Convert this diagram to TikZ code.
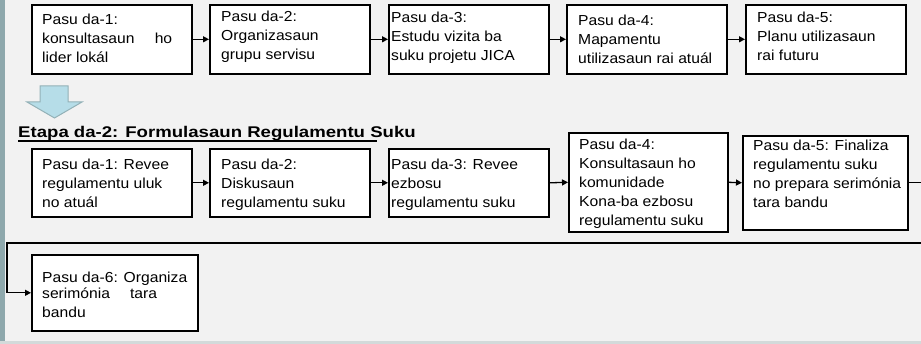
\documentclass[tikz,border=0pt]{standalone}
\usepackage{fontspec}
\setmainfont{Liberation Sans}[FakeStretch=1.08]
\newfontfamily\hdfont{Liberation Sans}[FakeStretch=1.2]
\usetikzlibrary{arrows.meta}
\definecolor{bg}{HTML}{F2F2F2}
\definecolor{stripcol}{HTML}{8EA8AC}
\definecolor{bottomcol}{HTML}{D3DADA}
\definecolor{arrowfill}{HTML}{B6DDE8}
\definecolor{arrowline}{HTML}{93B1B7}
\begin{document}
\begin{tikzpicture}[x=1pt,y=-1pt,
  box/.style={draw=black, line width=1.6pt, fill=white, anchor=north west, inner sep=0pt},
  txt/.style={anchor=north west, align=left, inner sep=0pt, font=\fontsize{14.5}{19}\selectfont},
  conn/.style={line width=1.3pt, -{Triangle[length=6pt,width=6pt]}},
  heading/.style={anchor=base west, inner sep=0pt, font=\hdfont\bfseries\fontsize{15.5}{18}\selectfont}
]
\useasboundingbox (0,0) rectangle (921,344);
\clip (0,0) rectangle (921,344);
\fill[bg] (0,0) rectangle (921,344);
\fill[stripcol] (0,0) rectangle (5,344);
\fill[bottomcol] (0,341.5) rectangle (921,344);

% Row 1 boxes
\node[box, minimum width=160pt, minimum height=69pt] (b11) at (31,4) {};
\node[box, minimum width=160pt, minimum height=69pt] (b12) at (209,4) {};
\node[box, minimum width=160pt, minimum height=69pt] (b13) at (388,4) {};
\node[box, minimum width=160pt, minimum height=69pt] (b14) at (566,4) {};
\node[box, minimum width=160pt, minimum height=69pt] (b15) at (745,4) {};

\node[txt] (t11) at (42,13.5) {Pasu da-1:\\\makebox[130pt][s]{konsultasaun ho}\\lider lokál};
\node[txt] (t12) at (221,11) {Pasu da-2:\\Organizasaun\\grupu servisu};
\node[txt] (t13) at (391,11.5) {Pasu da-3:\\Estudu vizita ba\\suku projetu JICA};
\node[txt] (t14) at (578,14.5) {Pasu da-4:\\Mapamentu\\utilizasaun rai atuál};
\node[txt] (t15) at (757,11.5) {Pasu da-5:\\Planu utilizasaun\\rai futuru};

\draw[conn] (b11.east) -- (b12.west);
\draw[conn] (b12.east) -- (b13.west);
\draw[conn] (b13.east) -- (b14.west);
\draw[conn] (b14.east) -- (b15.west);

% Down block arrow
\draw[fill=arrowfill, draw=arrowline, line width=1pt]
  (40,86) -- (68,86) -- (68,102) -- (82,102) -- (54.5,118) -- (27,102) -- (40,102) -- cycle;

% Heading
\node[heading] (hd) at (18,138) {Etapa da-2: Formulasaun Regulamentu Suku};
\draw[line width=1.3pt] (18,141) -- (377,141);

% Row 2 boxes
\node[box, minimum width=160pt, minimum height=68pt] (b21) at (31,148) {};
\node[box, minimum width=160pt, minimum height=68pt] (b22) at (209,148) {};
\node[box, minimum width=160pt, minimum height=68pt] (b23) at (388,148) {};
\node[box, minimum width=159pt, minimum height=99pt] (b24) at (568,132) {};
\node[box, minimum width=165pt, minimum height=94pt] (b25) at (742,135) {};
\node[box, minimum width=166pt, minimum height=76pt] (b26) at (31,254) {};

\node[txt] (t21) at (42,158.5) {Pasu da-1: Revee\\regulamentu uluk\\no atuál};
\node[txt] (t22) at (221,158.5) {Pasu da-2:\\Diskusaun\\regulamentu suku};
\node[txt] (t23) at (391,158.5) {Pasu da-3: Revee\\ezbosu\\regulamentu suku};
\node[txt] (t24) at (579,138.5) {Pasu da-4:\\Konsultasaun ho\\komunidade\\Kona-ba ezbosu\\regulamentu suku};
\node[txt] (t25) at (753,139.5) {Pasu da-5: Finaliza\\regulamentu suku\\no prepara serimónia\\tara bandu};
\node[txt] (t26) at (42,271.5) {Pasu da-6: Organiza\\[-3pt]serimónia\hspace{20pt}tara\\bandu};

\draw[conn] (b21.east) -- (b22.west);
\draw[conn] (b22.east) -- (b23.west);
\draw[conn] (b23.east) -- (b24.west);
\draw[conn] (b24.east) -- (b25.west);

\coordinate (r1) at (935,243);
\coordinate (l1) at (7,243);
\draw[conn] (b25.east) -- (b25.east -| r1) -- (r1) -- (l1) -- (l1 |- b26.west) -- (b26.west);
\end{tikzpicture}
\end{document}
